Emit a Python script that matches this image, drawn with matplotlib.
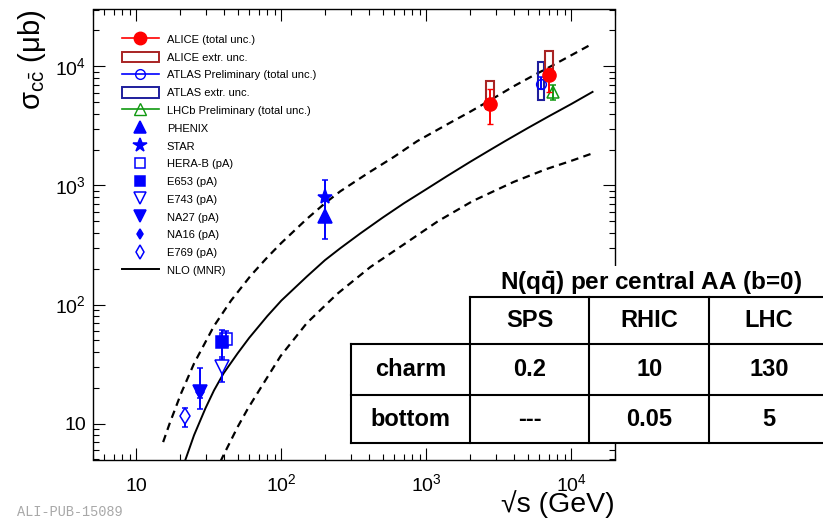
import matplotlib
matplotlib.use("Agg")
import matplotlib.pyplot as plt
from matplotlib.lines import Line2D
from matplotlib.patches import Patch, Rectangle
from matplotlib.ticker import LogLocator, NullFormatter

plt.rcParams["font.family"] = ["Liberation Sans", "DejaVu Sans"]
plt.rcParams["mathtext.fontset"] = "custom"
plt.rcParams["mathtext.rm"] = "Liberation Sans"
plt.rcParams["mathtext.it"] = "Liberation Sans:italic"
plt.rcParams["mathtext.bf"] = "Liberation Sans:bold"

# NLO (MNR) central value and uncertainty band (sqrt(s) in GeV, sigma in ub)
nlo_x = [20, 21.7, 25, 30, 34.3, 40, 50, 60, 80, 100, 150, 200, 255, 350, 500, 700,
         1000, 1400, 2000, 2760, 3500, 5000, 7000, 10000, 14000]
nlo_y = [3.4, 4.9, 8.0, 13.5, 19.0, 26.5, 39, 52.5, 80, 108, 172, 236, 297, 395, 537, 708,
         930, 1205, 1575, 1990, 2360, 3030, 3810, 4830, 6100]
nlo_up_x = [15.3, 17, 20.4, 25, 34.3, 45, 61.5, 80, 100, 150, 200, 255, 400, 600, 863,
            1400, 2000, 2760, 4000, 5500, 7000, 10000, 14000]
nlo_up_y = [7.0, 10.1, 18.1, 32, 66, 108, 175, 249, 329, 524, 709, 893, 1280, 1742, 2350,
            3270, 4150, 5200, 6800, 8400, 9800, 12400, 15500]
nlo_lo_x = [38, 39.5, 50, 58.8, 80, 98.9, 150, 243, 410, 700, 1200, 2090, 4000, 6700,
            10000, 14000]
nlo_lo_y = [4.8, 5.3, 9.4, 13.4, 24.5, 37, 70, 123, 206, 320, 500, 740, 1070, 1370,
            1610, 1860]

# lower energy measurements
low_names = ["E769 (pA)", "NA27 (pA)", "NA16 (pA)", "E743 (pA)", "E653 (pA)", "HERA-B (pA)", "PHENIX", "STAR"]
low_sqrts = [21.7, 27.4, 27.4, 38.8, 38.7, 41.6, 200, 200]
low_sigma = [11.7, 18.5, 18.5, 30.0, 48.6, 51.5, 550, 797]
low_lo = [9.4, 13.4, 16.5, 22.5, 35.0, 45.0, 355, 500]
low_hi = [13.6, 29.4, 20.5, 36.4, 61.0, 60.0, 745, 1107]

# LHC measurements
alice_sqrts = [2760, 7000]
alice_sigma = [4870, 8530]
alice_lo = [3310, 6050]
alice_hi = [6400, 9620]
alice_extr_lo = [4400, 8100]
alice_extr_hi = [7600, 13500]

atlas_sqrts = [6200]
atlas_sigma = [7130]
atlas_lo = [6410]
atlas_hi = [8070]
atlas_extr_lo = [5230]
atlas_extr_hi = [10950]

lhcb_sqrts = [7500]
lhcb_sigma = [6100]
lhcb_lo = [5170]
lhcb_hi = [7030]

# N(q qbar) table
table_cols = ["SPS", "RHIC", "LHC"]
table_rows = ["charm", "bottom"]
table_vals = [["0.2", "10", "130"], ["---", "0.05", "5"]]

BLUE = "#0000ff"
RED = "#ff0000"
DARKRED = "#a82424"
DARKBLUE = "#1e1e9c"
GREEN = "#119911"

low_style = {
    "E769 (pA)": dict(marker="d", ms=8, mfc="white"),
    "NA27 (pA)": dict(marker="v", ms=10, mfc=BLUE),
    "NA16 (pA)": dict(marker="d", ms=6.2, mfc=BLUE),
    "E743 (pA)": dict(marker="v", ms=10, mfc="white"),
    "E653 (pA)": dict(marker="s", ms=8.5, mfc=BLUE),
    "HERA-B (pA)": dict(marker="s", ms=8.5, mfc="none"),
    "PHENIX": dict(marker="^", ms=9.5, mfc=BLUE),
    "STAR": dict(marker="*", ms=11, mfc=BLUE),
}

W, H = 823, 519
fig = plt.figure(figsize=(W / 100, H / 100), dpi=100)
ax = fig.add_axes([92.7 / W, 1 - 459.5 / H, (615 - 92.7) / W, 450 / H])
ax.set_xscale("log")
ax.set_yscale("log")
ax.set_xlim(5, 2e4)
ax.set_ylim(5, 3e4)

dash = (0, (3.4, 2.4))
ax.plot(nlo_x, nlo_y, color="black", lw=1.4, zorder=2)
ax.plot(nlo_up_x, nlo_up_y, color="black", lw=1.6, ls=dash, zorder=2)
ax.plot(nlo_lo_x, nlo_lo_y, color="black", lw=1.6, ls=dash, zorder=2)

for name, x, y, lo, hi in zip(low_names, low_sqrts, low_sigma, low_lo, low_hi):
    st = low_style[name]
    ax.errorbar([x], [y], yerr=[[y - lo], [hi - y]], fmt=st["marker"], ms=st["ms"],
                color=BLUE, mfc=st["mfc"], mec=BLUE, mew=1.1, elinewidth=1.4,
                capsize=2, capthick=1.2, zorder=4)


def add_boxes(xs, lo, hi, half, color):
    f = 10 ** half
    for x, a, b in zip(xs, lo, hi):
        ax.add_patch(Rectangle((x / f, a), x * f - x / f, b - a, fill=False,
                               ec=color, lw=1.5, zorder=3))


add_boxes(atlas_sqrts, atlas_extr_lo, atlas_extr_hi, 0.021, DARKBLUE)
add_boxes(alice_sqrts, alice_extr_lo, alice_extr_hi, 0.027, DARKRED)

ax.errorbar(atlas_sqrts, atlas_sigma,
            yerr=[[s - l for s, l in zip(atlas_sigma, atlas_lo)],
                  [h - s for s, h in zip(atlas_sigma, atlas_hi)]],
            fmt="o", ms=7, color=BLUE, mfc="none", mew=1.1, elinewidth=1.4,
            capsize=2, zorder=4)
ax.errorbar(lhcb_sqrts, lhcb_sigma,
            yerr=[[s - l for s, l in zip(lhcb_sigma, lhcb_lo)],
                  [h - s for s, h in zip(lhcb_sigma, lhcb_hi)]],
            fmt="^", ms=8, color=GREEN, mfc="none", mew=1.1, elinewidth=1.4,
            capsize=2, zorder=4)
ax.errorbar(alice_sqrts, alice_sigma,
            yerr=[[s - l for s, l in zip(alice_sigma, alice_lo)],
                  [h - s for s, h in zip(alice_sigma, alice_hi)]],
            fmt="o", ms=9.5, color=RED, elinewidth=1.4, capsize=2, zorder=5)

# axes styling
ax.tick_params(which="both", direction="in", top=True, right=True, width=0.8)
ax.tick_params(which="major", length=8.5)
ax.tick_params(which="minor", length=4.3)
ax.tick_params(axis="x", which="major", pad=23, labelsize=14)
ax.tick_params(axis="y", which="major", pad=5, labelsize=14)
for sp in ax.spines.values():
    sp.set_linewidth(1.0)

ax.set_xticks([10, 100, 1000, 10000])
ax.set_xticklabels(["10", r"$10^{2}$", r"$10^{3}$", r"$10^{4}$"])
ax.set_yticks([10, 100, 1000, 10000])
ax.set_yticklabels(["10", r"$10^{2}$", r"$10^{3}$", r"$10^{4}$"])
for t in ax.get_xticklabels():
    t.set_va("baseline")
ax.xaxis.set_minor_locator(LogLocator(base=10, subs=range(2, 10), numticks=20))
ax.yaxis.set_minor_locator(LogLocator(base=10, subs=range(2, 10), numticks=20))
ax.xaxis.set_minor_formatter(NullFormatter())
ax.yaxis.set_minor_formatter(NullFormatter())

ax.set_xlabel("√s (GeV)", fontsize=20.5, loc="right")
ax.xaxis.set_label_coords(1.0, -0.068)
ax.set_ylabel(r"σ$_{\mathrm{c\bar{c}}}$ (μb)", fontsize=21, loc="top")
ax.yaxis.set_label_coords(-0.086, 1.0)

# legend
handles = [
    Line2D([], [], color=RED, marker="o", ms=9, lw=1.2),
    Patch(facecolor="none", edgecolor=DARKRED, lw=1.4),
    Line2D([], [], color=BLUE, marker="o", mfc="none", ms=7, lw=1.2),
    Patch(facecolor="none", edgecolor=DARKBLUE, lw=1.4),
    Line2D([], [], color=GREEN, marker="^", mfc="none", ms=8, lw=1.2),
]
labels = ["ALICE (total unc.)", "ALICE extr. unc.", "ATLAS Preliminary (total unc.)",
          "ATLAS extr. unc.", "LHCb Preliminary (total unc.)"]
for name in ["PHENIX", "STAR", "HERA-B (pA)", "E653 (pA)", "E743 (pA)",
             "NA27 (pA)", "NA16 (pA)", "E769 (pA)"]:
    st = low_style[name]
    handles.append(Line2D([], [], ls="none", marker=st["marker"], ms=st["ms"] * 0.9,
                          color=BLUE, mfc=st["mfc"], mec=BLUE, mew=1.1))
    labels.append(name)
handles.append(Line2D([], [], color="black", lw=1.4))
labels.append("NLO (MNR)")

ax.legend(handles, labels, loc="upper left", bbox_to_anchor=(0.056, 0.946),
          frameon=False, fontsize=8, handlelength=3.3, handleheight=1.1,
          handletextpad=0.75, labelspacing=0.6, borderpad=0, borderaxespad=0)

# table overlay (pixel coordinates of the figure)
tab = fig.add_axes([0, 0, 1, 1], zorder=10)
tab.set_xlim(0, W)
tab.set_ylim(H, 0)
tab.axis("off")

col_edges = [350.7, 470, 589.3, 709.3, 829]
row_edges = [296.7, 344, 395, 443.3]
tab.add_patch(Rectangle((470, 266), W - 470, 31, fc="white", ec="none"))
tab.add_patch(Rectangle((470, row_edges[0]), W - 470, row_edges[1] - row_edges[0], fc="white", ec="none"))
tab.add_patch(Rectangle((col_edges[0], row_edges[1]), W - col_edges[0], row_edges[3] - row_edges[1],
                        fc="white", ec="none"))

lw = 1.5
tab.plot([col_edges[1], W], [row_edges[0]] * 2, color="black", lw=lw)
for r in row_edges[1:]:
    tab.plot([col_edges[0], W], [r, r], color="black", lw=lw)
tab.plot([col_edges[0]] * 2, [row_edges[1], row_edges[3]], color="black", lw=lw)
for c in col_edges[1:4]:
    tab.plot([c, c], [row_edges[0], row_edges[3]], color="black", lw=lw)

tab.text(651, 283, r"N(q$\mathbf{\bar{q}}$) per central AA (b=0)", fontsize=17.5,
         fontweight="bold", ha="center", va="center")
for j, name in enumerate(table_cols):
    cx = (col_edges[j + 1] + col_edges[j + 2]) / 2
    tab.text(cx, (row_edges[0] + row_edges[1]) / 2, name, fontsize=17,
             fontweight="bold", ha="center", va="center")
for i, rname in enumerate(table_rows):
    cy = (row_edges[i + 1] + row_edges[i + 2]) / 2
    tab.text((col_edges[0] + col_edges[1]) / 2, cy, rname, fontsize=17,
             fontweight="bold", ha="center", va="center")
    for j, v in enumerate(table_vals[i]):
        cx = (col_edges[j + 1] + col_edges[j + 2]) / 2
        tab.text(cx, cy, v, fontsize=17, fontweight="bold", ha="center", va="center")

fig.text(17 / W, 1 - 512 / H, "ALI-PUB-15089", family="Liberation Mono",
         fontsize=9.8, color="#a8a8a8", va="center")

fig.savefig("out.png", dpi=100)
